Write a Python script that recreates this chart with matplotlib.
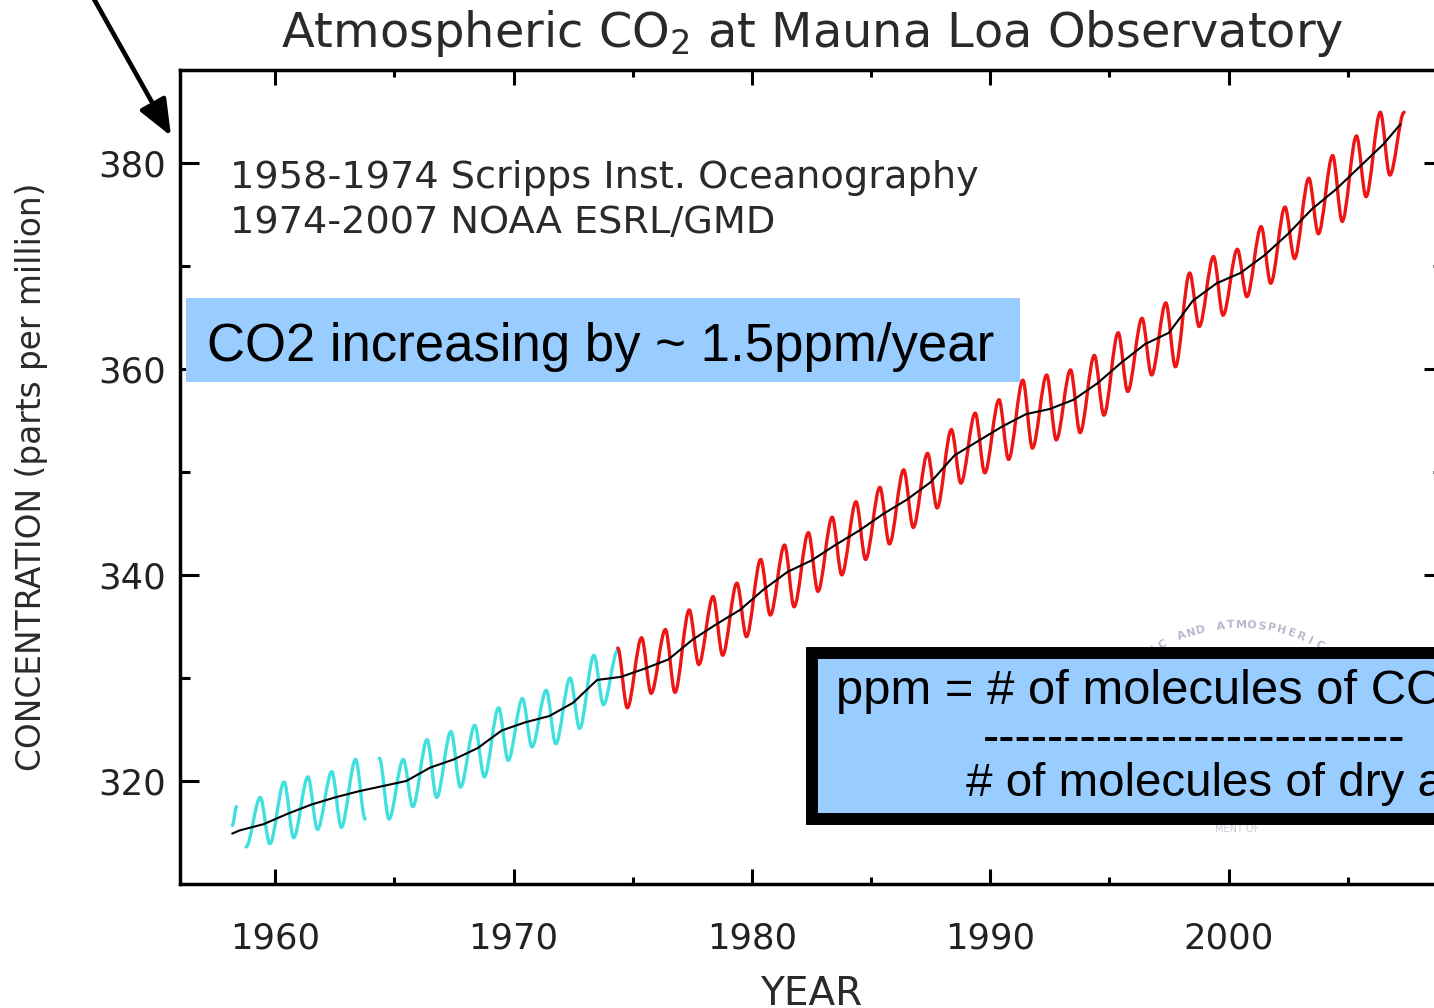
import numpy as np
import matplotlib
matplotlib.use("Agg")
import matplotlib.pyplot as plt
from matplotlib.patches import Rectangle, Circle, PathPatch
from matplotlib.path import Path

# ---------------- data ----------------
# Scripps record (cyan): yearly seasonal maximum (~May) and minimum (~Oct), ppm
scripps_years = list(range(1958, 1975))
scripps_max = [317.5, 318.4, 319.9, 320.4, 320.9, 322.1, 322.2, 322.1, 324.0,
               324.8, 325.4, 327.1, 328.0, 328.8, 330.0, 332.2, 332.7]
scripps_min = [313.6, 313.9, 314.5, 315.3, 315.5, 316.3, 316.3, 317.5, 318.4,
               319.4, 320.4, 322.0, 323.3, 323.6, 325.1, 327.4, np.nan]
scripps_first_time = 1958.2
scripps_first_value = 315.7
scripps_break_after_peak = [1958]
scripps_break_after_trough = [1963]

# NOAA record (red)
noaa_years = list(range(1974, 2008))
noaa_max = [332.9, 333.9, 334.7, 336.6, 337.9, 339.2, 341.5, 342.9, 344.1, 345.6,
            347.1, 348.5, 350.2, 351.8, 354.1, 355.7, 357.0, 358.9, 359.4, 359.9,
            361.3, 363.5, 364.9, 366.4, 369.3, 370.9, 371.6, 373.8, 375.7, 378.5,
            380.7, 382.6, 384.9, 384.9]
noaa_min = [327.1, 328.5, 328.6, 331.3, 332.2, 334.0, 336.1, 336.9, 338.4, 340.0,
            341.5, 343.0, 344.6, 346.5, 348.9, 349.9, 351.2, 352.3, 353.1, 353.8,
            355.5, 357.8, 359.4, 360.2, 364.1, 365.2, 367.0, 368.3, 370.7, 373.1,
            374.3, 376.7, 378.8, np.nan]

# de-seasonalised trend (black)
trend_years = [1958.2, 1958.5, 1959.5, 1960.5, 1961.5, 1962.5, 1963.5, 1964.5,
               1965.5, 1966.5, 1967.5, 1968.5, 1969.5, 1970.5, 1971.5, 1972.5,
               1973.5, 1974.5, 1975.5, 1976.5, 1977.5, 1978.5, 1979.5, 1980.5,
               1981.5, 1982.5, 1983.5, 1984.5, 1985.5, 1986.5, 1987.5, 1988.5,
               1989.5, 1990.5, 1991.5, 1992.5, 1993.5, 1994.5, 1995.5, 1996.5,
               1997.5, 1998.5, 1999.5, 2000.5, 2001.5, 2002.5, 2003.5, 2004.5,
               2005.5, 2006.5, 2007.2]
trend_ppm = [314.9, 315.2, 315.8, 316.8, 317.7, 318.4, 319.0, 319.5,
             320.0, 321.3, 322.1, 323.2, 324.9, 325.7, 326.3, 327.6,
             329.8, 330.1, 330.9, 331.8, 333.7, 335.2, 336.6, 338.6,
             340.3, 341.4, 342.9, 344.3, 345.9, 347.3, 349.0, 351.6,
             353.0, 354.4, 355.6, 356.1, 357.0, 358.6, 360.6, 362.4,
             363.5, 366.6, 368.3, 369.3, 371.0, 373.1, 375.5, 377.4,
             379.6, 381.8, 383.7]

x_major = [1960, 1970, 1980, 1990, 2000]
x_minor = [1965, 1975, 1985, 1995, 2005]
y_major = [320, 340, 360, 380]
y_minor = [330, 350, 370]

PEAK_PHASE = 0.37
TROUGH_PHASE = 0.77


def seasonal_series(years, vmax, vmin, brk_peak=(), brk_trough=()):
    t, v = [], []
    for y, hi, lo in zip(years, vmax, vmin):
        t.append(y + PEAK_PHASE); v.append(hi)
        if y in brk_peak:
            t.append(np.nan); v.append(np.nan)
        if not np.isnan(lo):
            t.append(y + TROUGH_PHASE); v.append(lo)
        if y in brk_trough:
            t.append(np.nan); v.append(np.nan)
    return t, v


def smooth_path(t, v, frac=0.33):
    """Join the extrema with cubic curves that are flat at peaks/troughs."""
    verts, codes = [], []
    prev = None
    for ti, vi in zip(t, v):
        if np.isnan(ti) or np.isnan(vi):
            prev = None
            continue
        if prev is None:
            verts.append((ti, vi)); codes.append(Path.MOVETO)
        else:
            t0, v0 = prev
            d = (ti - t0) * frac
            verts += [(t0 + d, v0), (ti - d, vi), (ti, vi)]
            codes += [Path.CURVE4] * 3
        prev = (ti, vi)
    return Path(verts, codes)


W, H = 1434, 1008
fig = plt.figure(figsize=(W / 100, H / 100), dpi=100)
fig.patch.set_facecolor("white")
plt.rcParams["font.family"] = ["DejaVu Sans"]


def fx(px):
    return px / W


def fy(py):
    return 1 - py / H


ax = fig.add_axes([fx(180), 124 / H, 1263 / W, 814 / H])
ax.set_xlim(1956, 2009)
ax.set_ylim(310, 389)

ct, cv = seasonal_series(scripps_years, scripps_max, scripps_min,
                         scripps_break_after_peak, scripps_break_after_trough)
ct = [scripps_first_time] + ct
cv = [scripps_first_value] + cv
nt, nv = seasonal_series(noaa_years, noaa_max, noaa_min)

ax.add_patch(PathPatch(smooth_path(ct, cv), facecolor="none",
                       edgecolor="#40E0E0", lw=2.4, capstyle="round",
                       joinstyle="round", zorder=2))
ax.add_patch(PathPatch(smooth_path(nt, nv), facecolor="none",
                       edgecolor="#EE1515", lw=2.4, capstyle="round",
                       joinstyle="round", zorder=3))
ax.plot(trend_years, trend_ppm, color="black", lw=1.5, zorder=4)

ax.set_xticks(x_major)
ax.set_xticks(x_minor, minor=True)
ax.set_yticks(y_major)
ax.set_yticks(y_minor, minor=True)
ax.tick_params(which="both", direction="in", top=True, right=True,
               width=2.2, colors="black", labelcolor="#222222")
ax.tick_params(axis="x", which="major", length=11, pad=27, labelsize=25.5)
ax.tick_params(axis="x", which="minor", length=5)
ax.tick_params(axis="y", which="major", length=13.5, pad=10, labelsize=25.5)
ax.tick_params(axis="y", which="minor", length=7)
for s in ax.spines.values():
    s.set_linewidth(2.5)

# titles / labels
fig.text(fx(812), fy(47), "Atmospheric CO$_2$ at Mauna Loa Observatory",
         ha="center", va="baseline", fontsize=34.5, color="#2a2a2a")
fig.text(fx(32), fy(477), "CONCENTRATION (parts per million)", rotation=90,
         ha="center", va="center", fontsize=23.6, color="#2a2a2a")
fig.text(fx(811), fy(1005), "YEAR", ha="center", va="baseline",
         fontsize=28, color="#2a2a2a")
fig.text(fx(230), fy(188), "1958-1974 Scripps Inst. Oceanography",
         ha="left", va="baseline", fontsize=27.5, color="#2a2a2a")
fig.text(fx(230), fy(233), "1974-2007 NOAA ESRL/GMD",
         ha="left", va="baseline", fontsize=27.5, color="#2a2a2a")

# faint logo behind the definition box
logo_cx, logo_cy = 1240, 787
disc = Circle((fx(logo_cx), fy(logo_cy)), 150 / W, transform=fig.transFigure,
              facecolor="#dcdde9", edgecolor="none", zorder=1.2)
clip = Rectangle((0, fy(660)), 1, 1, transform=fig.transFigure)
disc.set_clip_path(clip)
fig.add_artist(disc)
logo_text = "OCEANIC AND ATMOSPHERIC ADMINISTRATION"
R = 162
step = np.deg2rad(3.6)
center_idx = logo_text.index("ATMOSPHERIC") + 3
for i, ch in enumerate(logo_text):
    th = (i - center_idx) * step + np.deg2rad(4)
    px = logo_cx + R * np.sin(th)
    py = logo_cy - R * np.cos(th)
    if py > 660:
        continue
    fig.text(fx(px), fy(py), ch, rotation=-np.rad2deg(th), ha="center",
             va="center", fontsize=8, color="#b4b8cc", zorder=1.3,
             fontweight="bold")
fig.text(fx(1237), fy(829), "MENT OF", ha="center", va="center", fontsize=7,
         color="#c8c8d4", zorder=1.3)

# highlight box 1
fig.add_artist(Rectangle((fx(186), fy(382)), 834 / W, 84 / H,
                         transform=fig.transFigure, facecolor="#99CCFF",
                         edgecolor="none", zorder=2))
fig.text(fx(207), fy(361), "CO2 increasing by ~ 1.5ppm/year",
         family=["Liberation Sans"], fontsize=38, color="black",
         ha="left", va="baseline", zorder=3)

# definition box 2
fig.add_artist(Rectangle((fx(812), fy(819)), 700 / W, 166 / H,
                         transform=fig.transFigure, facecolor="#99CCFF",
                         edgecolor="black", linewidth=8.6, zorder=2))
fig.text(fx(836), fy(704), "ppm = # of molecules of CO2",
         family=["Liberation Sans"], fontsize=35.3, color="black",
         ha="left", va="baseline", zorder=3)
fig.text(fx(983), fy(752), "-" * 26,
         family=["Liberation Sans"], fontsize=35.3, color="black",
         ha="left", va="baseline", zorder=3)
fig.text(fx(966), fy(796), "# of molecules of dry air",
         family=["Liberation Sans"], fontsize=34.2, color="black",
         ha="left", va="baseline", zorder=3)

# arrow top-left
ax.annotate("", xy=(171, H - 136), xycoords="figure pixels",
            xytext=(90, H + 8), textcoords="figure pixels",
            arrowprops=dict(arrowstyle="-|>,head_length=1.1,head_width=0.45",
                            lw=3.3, color="black", mutation_scale=20,
                            shrinkA=0, shrinkB=0),
            annotation_clip=False)

fig.savefig("out.png", dpi=100)
